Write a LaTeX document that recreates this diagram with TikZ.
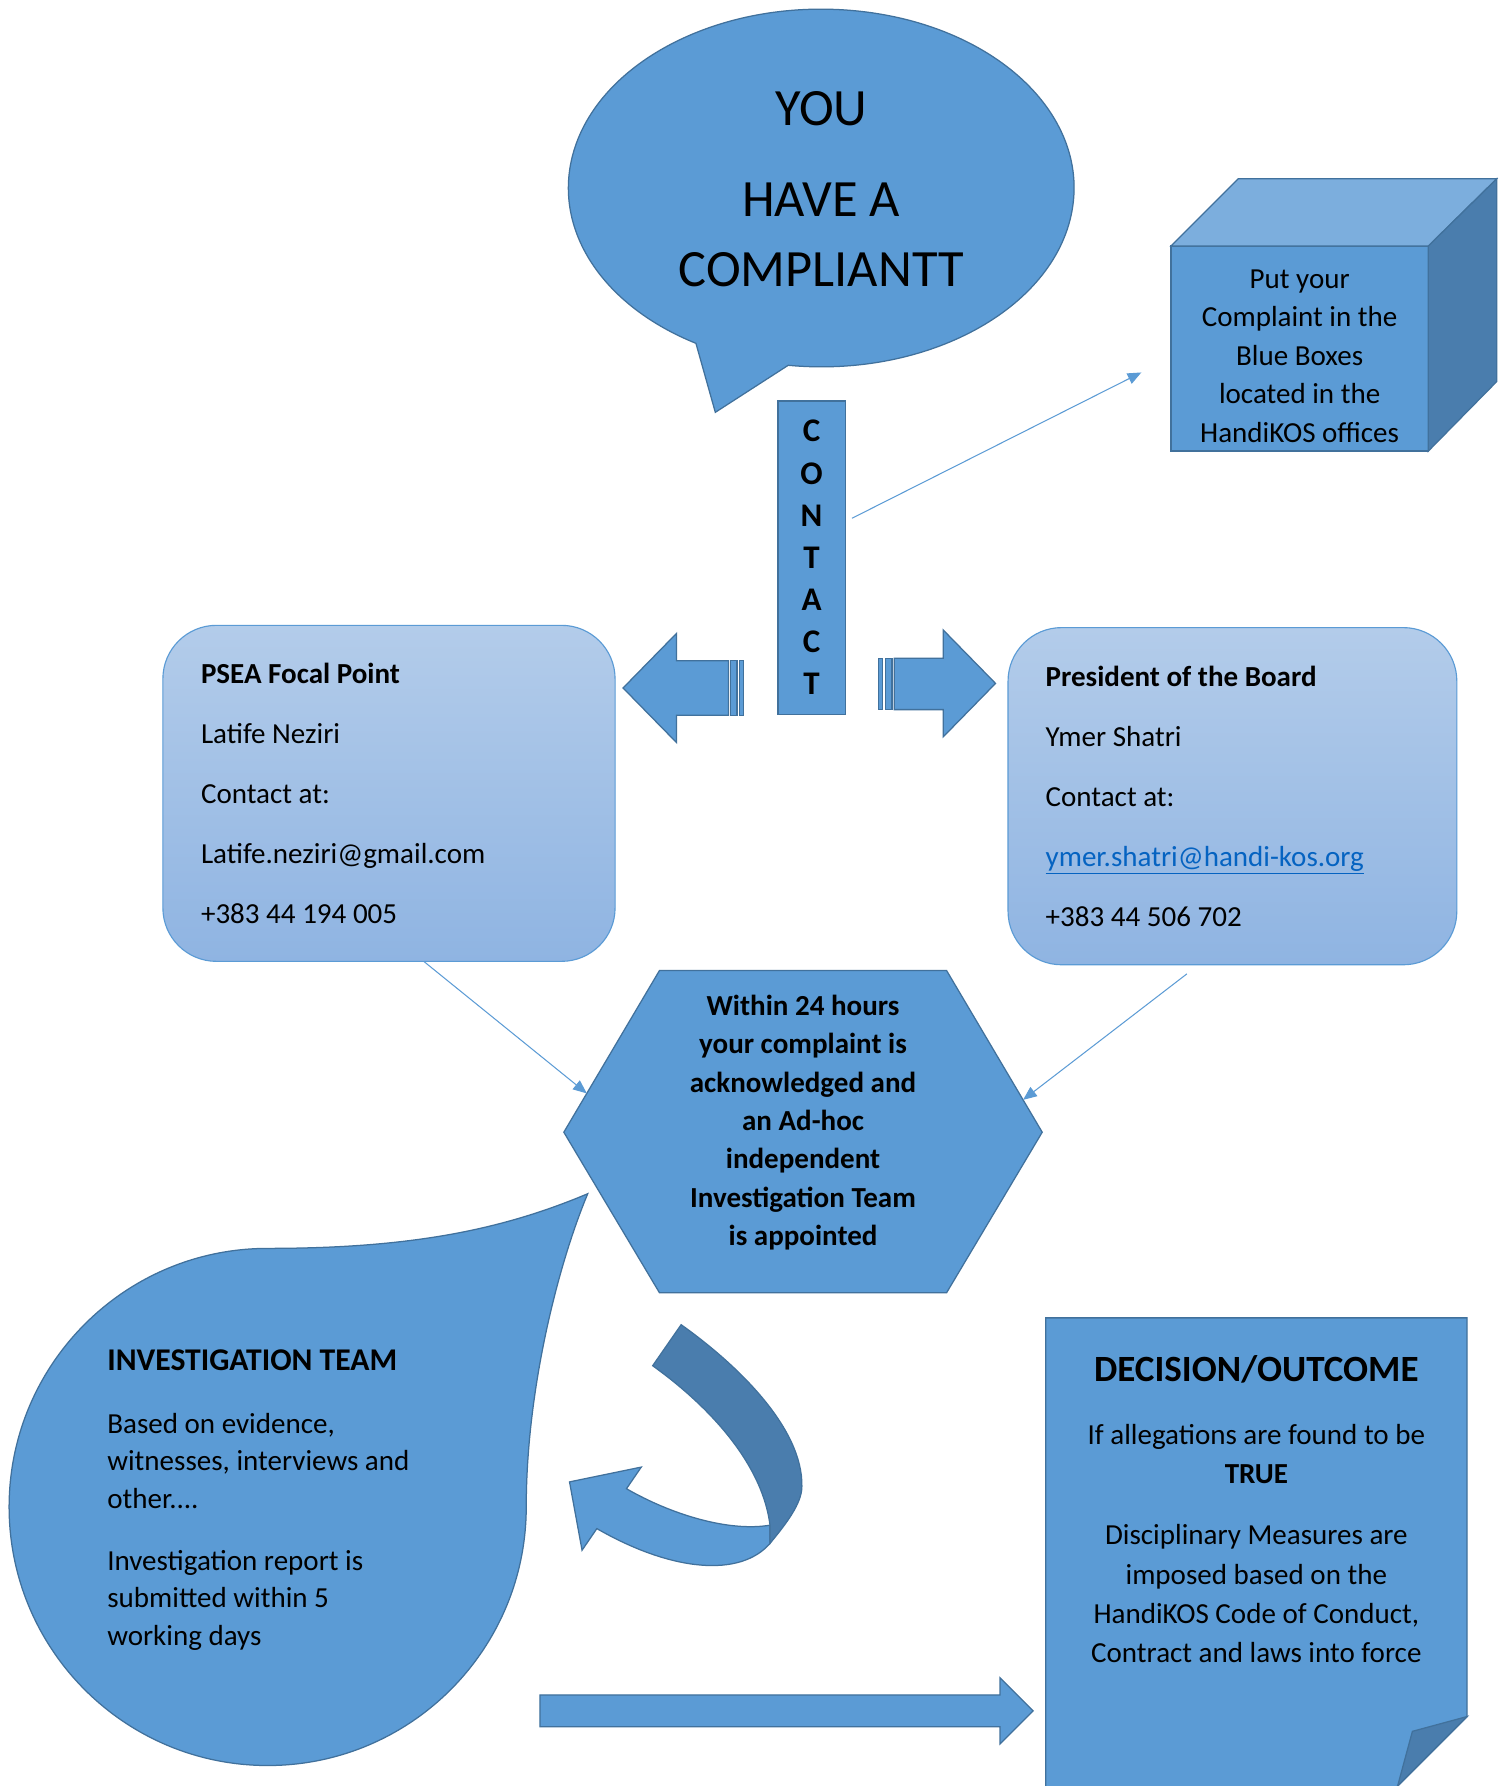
\documentclass[tikz,border=0pt]{standalone}
\usepackage{fontspec}
\setmainfont{Carlito}
\usetikzlibrary{calc,arrows.meta}
\definecolor{officeblue}{HTML}{5B9BD5}
\definecolor{edgeblue}{HTML}{41719C}
\definecolor{shadeblue}{HTML}{4A7DAD}
\definecolor{lightface}{HTML}{7CAEDD}
\definecolor{boxtop}{HTML}{B3CCEA}
\definecolor{boxbottom}{HTML}{8FB4E2}
\definecolor{linkblue}{HTML}{0563C1}

\begin{document}
\begin{tikzpicture}[x=1pt,y=1pt,
  blockshape/.style={fill=officeblue,draw=edgeblue,line width=1.1pt,outer sep=0pt},
  infobox/.style={draw=officeblue,line width=1pt,rounded corners=47pt,top color=boxtop,bottom color=boxbottom,
    align=flush left,inner xsep=33pt,text width=330pt,minimum width=397pt,minimum height=295pt,outer sep=0pt,
    font=\fontsize{25.5}{52.7}\selectfont},
  pointer/.style={draw=officeblue,line width=0.9pt},
  > = {Triangle[length=12pt,width=10pt]}]
\path[use as bounding box,fill=white] (0,0) rectangle (1323,-1568);

% speech bubble
\draw[blockshape] (692,-320.7) arc[start angle=262.5,end angle=600.3,x radius=222,y radius=157] -- (628,-362) -- cycle;
\node[align=center,font=\fontsize{46}{62}\selectfont] (you) at (721,-166) {YOU\\[18pt]HAVE A\\COMPLIANTT};

% blue box
\node[blockshape,minimum width=226pt,minimum height=180pt,inner sep=0pt] (bluebox) at (1141,-306) {};
\draw[blockshape,fill=lightface] (bluebox.north west) -- ++(59,59) -- ($(bluebox.north east)+(60,59)$) -- (bluebox.north east) -- cycle;
\draw[blockshape,fill=shadeblue] (bluebox.north east) -- ++(60,59) -- ($(bluebox.south east)+(60,61)$) -- (bluebox.south east) -- cycle;
\node[align=center,font=\fontsize{25.5}{33.8}\selectfont] (boxtext) at ([yshift=-6.5pt]bluebox.center) {Put your\\Complaint in the\\Blue Boxes\\located in the\\HandiKOS offices};

% contact bar
\node[blockshape,minimum width=59pt,minimum height=275pt,inner sep=0pt,align=center,
  font=\fontsize{29}{37}\selectfont\bfseries] (contact) at (712.5,-489.5) {C\\O\\N\\T\\A\\C\\T};
\coordinate (boxslot) at ([xshift=-26pt,yshift=-21pt]bluebox.west);
\draw[->,pointer] ([xshift=6pt,yshift=34.5pt]contact.east) -- (boxslot);

% striped arrows
\draw[blockshape] (547,-604) -- (594,-556) -- (594,-580) -- (639.5,-580) -- (639.5,-628) -- (594,-628) -- (594,-652) -- cycle;
\draw[blockshape] (641,-580) rectangle (647,-628);
\draw[blockshape] (649,-580) rectangle (653,-628);
\draw[blockshape] (874,-600) -- (828,-553) -- (828,-578) -- (785,-578) -- (785,-623) -- (828,-623) -- (828,-647) -- cycle;
\draw[blockshape] (777.5,-578) rectangle (783,-623);
\draw[blockshape] (771,-578) rectangle (775,-623);

% contact boxes
\node[infobox] (focal) at (341.5,-696.5) {\textbf{PSEA Focal Point}\\Latife Neziri\\Contact at:\\Latife.neziri@gmail.com\\+383 44 194 005};
\node[infobox,text width=328pt,minimum width=394pt,minimum height=296pt] (president) at (1082,-699) {\textbf{President of the Board}\\Ymer Shatri\\Contact at:\\\textcolor{linkblue}{\underline{ymer.shatri@handi-kos.org}}\\+383 44 506 702};

% hexagon
\coordinate (hexnw) at (579,-852);
\coordinate (hexne) at (831,-852);
\coordinate (hexe) at (915,-994);
\coordinate (hexse) at (831,-1135);
\coordinate (hexsw) at (579,-1135);
\coordinate (hexw) at (495,-994);
\draw[blockshape] (hexnw) -- (hexne) -- (hexe) -- (hexse) -- (hexsw) -- (hexw) -- cycle;
\node[align=center,font=\fontsize{25.5}{33.7}\selectfont\bfseries] (appointed) at (705,-985.5) {Within 24 hours\\your complaint is\\acknowledged and\\an Ad-hoc\\independent\\Investigation Team\\is appointed};
\draw[->,pointer] ([xshift=30.5pt]focal.south) -- ($(hexnw)!0.76!(hexw)$);
\draw[->,pointer] ([xshift=-40pt,yshift=-8pt]president.south) -- ($(hexne)!0.80!(hexe)$);

% investigation team
\draw[blockshape] (235,-1096) .. controls (360,-1096) and (440,-1080) .. (516,-1048)
  .. controls (490,-1110) and (462,-1220) .. (462,-1323) arc[start angle=0,end angle=-270,radius=227] -- cycle;
\node[anchor=north west,inner sep=0pt,align=left,font=\fontsize{25.5}{33}\selectfont] (team) at (94,-1185)
  {{\fontsize{27.8}{33}\selectfont\bfseries INVESTIGATION TEAM}\\[22pt]Based on evidence,\\witnesses, interviews and\\other....\\[21pt]Investigation report is\\submitted within 5\\working days};

% curved arrow
\draw[blockshape] (676,-1355) .. controls (650,-1385) and (590,-1380) .. (524,-1342) -- (511,-1361) -- (500,-1301)
  -- (563,-1288) -- (550,-1307) .. controls (590,-1330) and (640,-1345) .. (676,-1339) -- cycle;
\draw[blockshape,fill=shadeblue] (598,-1163) .. controls (650,-1200) and (705,-1255) .. (704,-1305)
  .. controls (704,-1320) and (690,-1338) .. (676,-1355) -- (676,-1339) .. controls (670,-1290) and (630,-1240) .. (573,-1199) -- cycle;

% arrow to the outcome
\draw[blockshape] (474,-1488) -- (878,-1488) -- (878,-1473) -- (907,-1502) -- (878,-1531) -- (878,-1516) -- (474,-1516) -- cycle;

% decision
\draw[blockshape] (918,-1157) -- (1288,-1157) -- (1288,-1507) -- (1222,-1573) -- (918,-1573) -- cycle;
\draw[blockshape,fill=shadeblue] (1288,-1507) -- (1240,-1520) -- (1227,-1568) -- cycle;
\node[align=center,font=\fontsize{25.5}{34.5}\selectfont] (outcome) at (1103,-1325)
  {{\fontsize{32.5}{34.5}\selectfont\bfseries DECISION/OUTCOME}\\[20.5pt]If allegations are found to be\\\textbf{TRUE}\\[19.5pt]Disciplinary Measures are\\imposed based on the\\HandiKOS Code of Conduct,\\Contract and laws into force};
\end{tikzpicture}
\end{document}
